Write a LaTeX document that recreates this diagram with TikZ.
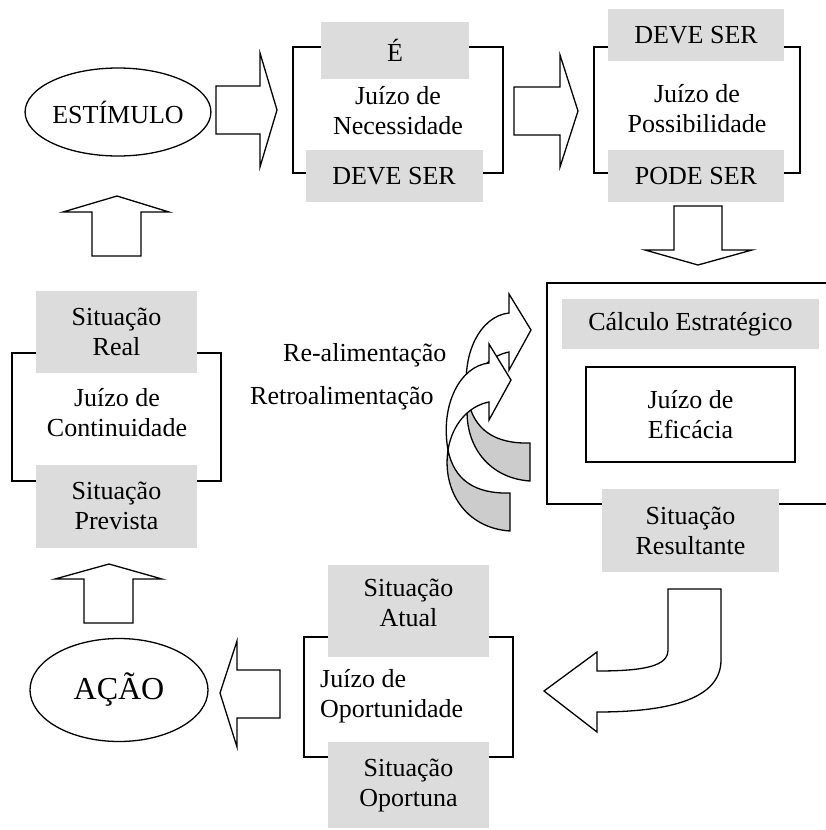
\documentclass[tikz,border=0pt]{standalone}
\usepackage{fontspec}
\setmainfont{Liberation Serif}
\usetikzlibrary{shapes.geometric}
\definecolor{boxgray}{HTML}{DCDCDC}
\definecolor{backgray}{HTML}{CCCCCC}
\tikzset{
  graybox/.style={fill=boxgray, inner sep=0pt, align=center},
  framebox/.style={draw, line width=1.6pt},
  blockarrow/.style={draw, fill=white, line width=1.3pt, line join=miter},
  stimulus/.style={draw, ellipse, line width=1.3pt, inner sep=0pt},
  judgment/.style={align=center, inner sep=0pt},
  feedarrow/.pic={
    % back of the band
    \fill[backgray, draw=black, line width=1.3pt]
      (468,400) .. controls (462,440) and (485,478) .. (530,481) -- (530,443)
      .. controls (495,444) and (474,430) .. (468,400) -- cycle;
    % front of the band with its head
    \draw[blockarrow]
      (468,400) .. controls (460,355) and (480,316) .. (509,313) -- (509,294)
      -- (531,330) -- (509,370) -- (509,352)
      .. controls (488,356) and (472,375) .. (468,400) -- cycle;
  },
}

\begin{document}
\begin{tikzpicture}[x=1pt, y=-1pt, font=\fontsize{26}{30}\selectfont]
  \useasboundingbox (0,0) rectangle (826,830);

  % frames of the judgments
  \draw[framebox] (293,47) rectangle (503,173);
  \draw[framebox] (594,47) rectangle (800,173);
  \draw[framebox] (12,353) rectangle (221,481);
  \draw[framebox] (304,637) rectangle (513,757);
  \draw[framebox] (826,283) -- (547,283) -- (547,504) -- (826,504);

  % top row
  \node[stimulus, minimum width=182pt, minimum height=88pt] (estimulo) at (118,112) {ESTÍMULO};
  \draw[blockarrow] (216,86) -- (260,86) -- (260,53) -- (277,110) -- (260,167) -- (260,134) -- (216,134) -- cycle;

  \node[graybox, minimum width=148pt, minimum height=57pt] (eh) at (395,50) {É};
  \node[judgment] (necessidade) at (398,111) {Juízo de\\Necessidade};
  \node[graybox, minimum width=177pt, minimum height=52pt] (deveA) at (394,176) {DEVE SER};

  \draw[blockarrow] (514,87) -- (560,87) -- (560,55) -- (578,111) -- (560,167) -- (560,135) -- (514,135) -- cycle;

  \node[graybox, minimum width=176pt, minimum height=52pt] (deveB) at (696,35) {DEVE SER};
  \node[judgment] (possibilidade) at (697,109) {Juízo de\\Possibilidade};
  \node[graybox, minimum width=176pt, minimum height=52pt] (podeSer) at (696,176) {PODE SER};

  \draw[blockarrow] (674,206) -- (722,206) -- (722,250) -- (752,250) -- (698,265) -- (645,250) -- (674,250) -- cycle;

  % left column
  \draw[blockarrow] (92,256) -- (92,212) -- (63,212) -- (117,196) -- (169,212) -- (141,212) -- (141,256) -- cycle;

  \node[graybox, minimum width=161pt, minimum height=82pt] (sitReal) at (116.5,332) {Situação\\Real};
  \node[judgment] (continuidade) at (117,413) {Juízo de\\Continuidade};
  \node[graybox, minimum width=161pt, minimum height=83pt] (sitPrevista) at (116.5,506) {Situação\\Prevista};

  \draw[blockarrow] (84,623) -- (84,579) -- (55,579) -- (109,564) -- (162,579) -- (133,579) -- (133,623) -- cycle;

  \node[stimulus, minimum width=178pt, minimum height=103pt, font=\fontsize{32}{36}\selectfont] (acao) at (119,690) {AÇÃO};

  \draw[blockarrow] (280,670) -- (237,670) -- (237,641) -- (220,693) -- (237,747) -- (237,718) -- (280,718) -- cycle;

  % bottom middle
  \node[graybox, minimum width=161pt, minimum height=92pt] (sitAtual) at (408.5,611) {};
  \node[judgment] (sitAtualText) at (408.5,603) {Situação\\Atual};
  \node[judgment, anchor=west, align=left] (oportunidade) at (320,696) {Juízo de\\Oportunidade};
  \node[graybox, minimum width=161pt, minimum height=86pt] (sitOportuna) at (408.5,785) {Situação\\Oportuna};

  % strategic calculation
  \node[graybox, minimum width=257pt, minimum height=50pt] (calculo) at (690.5,324) {Cálculo Estratégico};
  \node[judgment, draw, line width=1.6pt, fill=white, minimum width=209pt, minimum height=95pt] (eficacia) at (690.5,414.5) {Juízo de\\Eficácia};
  \node[graybox, minimum width=177pt, minimum height=83pt] (sitResultante) at (690.5,530.5) {Situação\\Resultante};

  \draw[blockarrow] (668,589) -- (721,589) -- (721,660)
    .. controls (721,698) and (672,712) .. (597,712) -- (597,732) -- (544,691) -- (597,652) -- (597,671)
    .. controls (645,671) and (668,666) .. (668,650) -- cycle;

  % feedback
  \node[anchor=west, inner sep=0pt] (realimentacao) at (283,355) {Re-alimentação};
  \node[anchor=west, inner sep=0pt] (retroalimentacao) at (250,398) {Retroalimentação};
  \pic at (0,0) {feedarrow};
  \pic at (-20,50) {feedarrow};
\end{tikzpicture}
\end{document}
